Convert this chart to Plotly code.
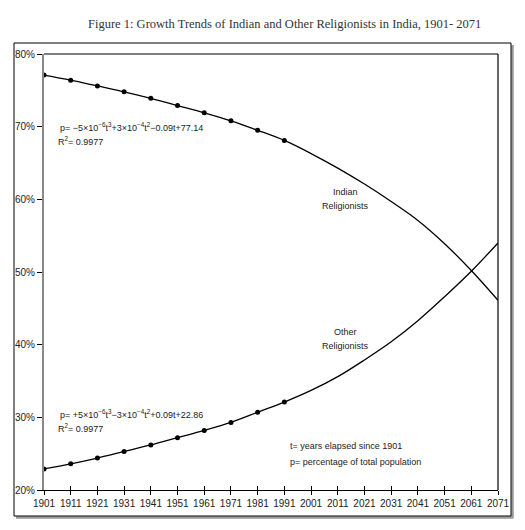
import plotly.graph_objects as go

# census years with observed shares (%)
census_years = [1901, 1911, 1921, 1931, 1941, 1951, 1961, 1971, 1981, 1991]
indian_obs = [77.1, 76.4, 75.6, 74.8, 73.9, 72.9, 71.9, 70.8, 69.5, 68.1]
other_obs = [22.9, 23.6, 24.4, 25.3, 26.2, 27.2, 28.2, 29.3, 30.7, 32.1]

# trend curve continued to 2071
proj_years = [2001, 2011, 2021, 2031, 2041, 2051, 2061, 2071]
indian_proj = [66.3, 64.3, 62.1, 59.7, 57.1, 53.9, 50.2, 46.1]
other_proj = [33.7, 35.6, 37.9, 40.4, 43.3, 46.6, 50.1, 54.0]

year_ticks = list(range(1901, 2072, 10))
pct_ticks = [20, 30, 40, 50, 60, 70, 80]
pct_labels = [f"{v}%" for v in pct_ticks]

W, H = 525, 530
L, R, T, B = 44, 27, 54, 40


def px(x):
    return (x - L) / (W - L - R)


def py(y):
    return (H - B - y) / (H - T - B)


FONT = "Liberation Sans, Arial"

fig = go.Figure()
for obs, proj in [(indian_obs, indian_proj), (other_obs, other_proj)]:
    fig.add_trace(go.Scatter(
        x=census_years + proj_years, y=obs + proj,
        mode="lines", line=dict(color="black", width=1.3, shape="spline"),
        hoverinfo="skip"))
    fig.add_trace(go.Scatter(
        x=census_years, y=obs, mode="markers",
        marker=dict(color="black", size=5, symbol="circle")))

# invisible trace to drive the inner tick marks on the x axis
fig.add_trace(go.Scatter(x=[year_ticks[0]], y=[pct_ticks[0]], xaxis="x2",
                         mode="markers", marker=dict(opacity=0), hoverinfo="skip"))

fig.update_layout(
    width=W, height=H,
    margin=dict(l=L, r=R, t=T, b=B),
    paper_bgcolor="white", plot_bgcolor="white",
    showlegend=False,
    font=dict(family=FONT, size=10, color="#222"),
    xaxis=dict(range=[1901, 2071], tickvals=year_ticks, showgrid=False, zeroline=False,
               showline=True, linecolor="black", linewidth=1,
               ticks="outside", ticklen=4, tickcolor="black",
               tickfont=dict(family=FONT, size=10, color="#222")),
    xaxis2=dict(range=[1901, 2071], tickvals=year_ticks, overlaying="x", side="bottom",
                showgrid=False, zeroline=False, showticklabels=False,
                ticks="inside", ticklen=4, tickcolor="black"),
    yaxis=dict(range=[20, 80], tickvals=pct_ticks, ticktext=pct_labels, showgrid=False,
               zeroline=False, showline=True, linecolor="#888", linewidth=2,
               ticks="outside", ticklen=5, tickcolor="black",
               tickfont=dict(family=FONT, size=10, color="#222")),
)

shapes = [
    # top and right border of the plot area
    dict(type="line", xref="paper", yref="paper", x0=0, x1=1, y0=1, y1=1,
         line=dict(color="black", width=1.2)),
    dict(type="line", xref="paper", yref="paper", x0=1, x1=1, y0=0, y1=1,
         line=dict(color="black", width=1.2)),
    # outer frame with grey shadow
    dict(type="line", xref="paper", yref="paper", x0=px(512.5), x1=px(512.5), y0=py(45), y1=py(517),
         line=dict(color="#999", width=2.5)),
    dict(type="line", xref="paper", yref="paper", x0=px(16), x1=px(513.5), y0=py(517.5), y1=py(517.5),
         line=dict(color="#999", width=2.5)),
    dict(type="rect", xref="paper", yref="paper", x0=px(14), x1=px(511), y0=py(516), y1=py(43),
         line=dict(color="black", width=1)),
]
fig.update_layout(shapes=shapes)

notes = [
    (58, 127, "left", "p= −5×10<sup>−6</sup>t<sup>3</sup>+3×10<sup>−4</sup>t<sup>2</sup>−0.09t+77.14"),
    (56, 141, "left", "R<sup>2</sup>= 0.9977"),
    (58, 414, "left", "p= +5×10<sup>−6</sup>t<sup>3</sup>−3×10<sup>−4</sup>t<sup>2</sup>+0.09t+22.86"),
    (56, 428, "left", "R<sup>2</sup>= 0.9977"),
    (345, 192, "center", "Indian"),
    (345, 206, "center", "Religionists"),
    (345, 332, "center", "Other"),
    (345, 346, "center", "Religionists"),
    (288, 446, "left", "t= years elapsed since 1901"),
    (288, 462, "left", "p= percentage of total population"),
]
for x, y, anchor, txt in notes:
    fig.add_annotation(x=px(x), y=py(y), xref="paper", yref="paper", text=txt,
                       showarrow=False, xanchor=anchor, yanchor="middle",
                       font=dict(family=FONT, size=9, color="#222"))

fig.add_annotation(x=px(284), y=py(24), xref="paper", yref="paper",
                   text="Figure 1: Growth Trends of Indian and Other Religionists in India, 1901- 2071",
                   showarrow=False, xanchor="center", yanchor="middle",
                   font=dict(family="Liberation Serif, Times New Roman, serif", size=12.5, color="#333"))

# drop the browser's default page margin so the figure sits at the window origin
fig.write_html("out.html", config={"displayModeBar": False},
               post_script="document.body.style.margin='0';")
